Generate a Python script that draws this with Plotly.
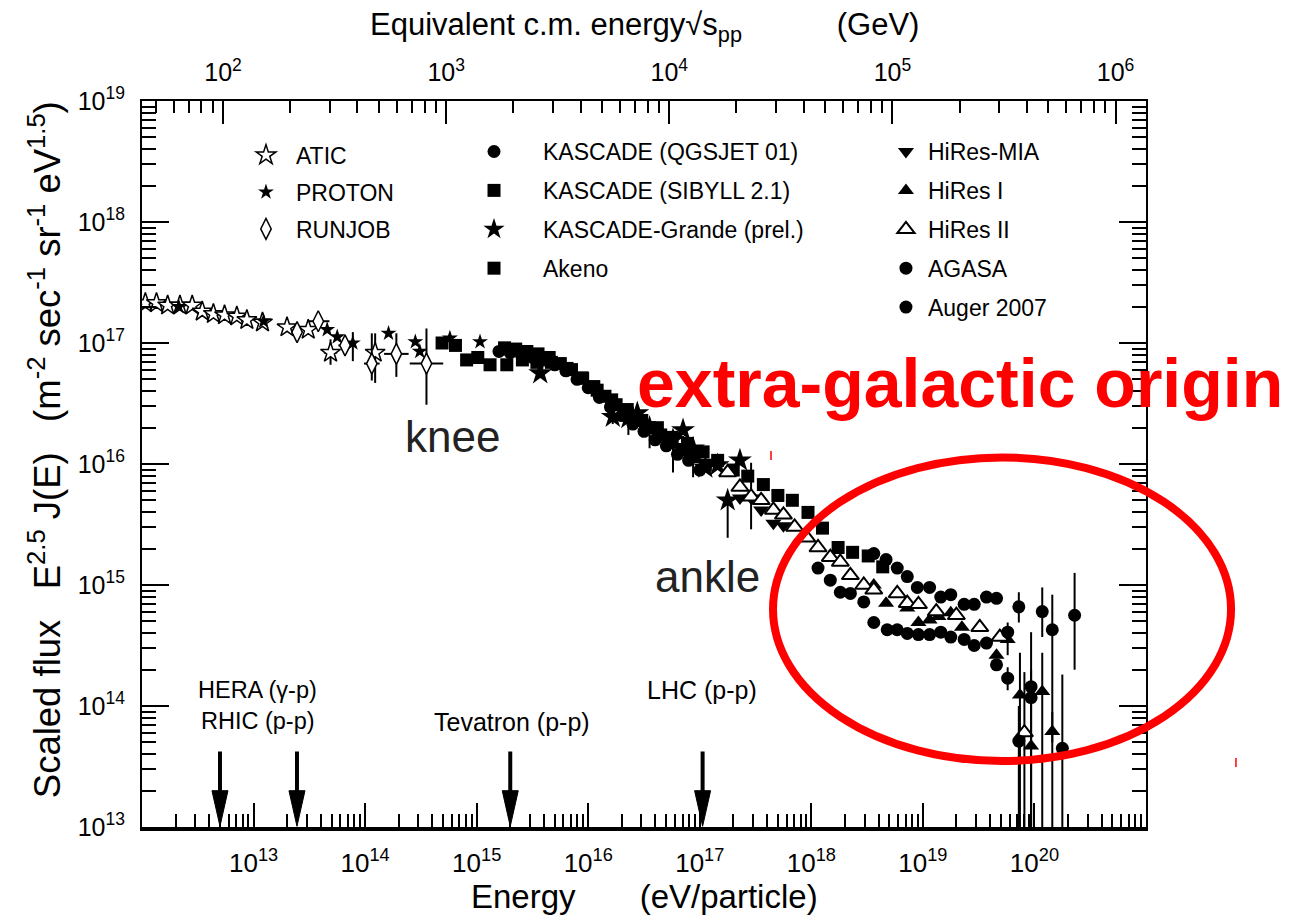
import numpy as np
import plotly.graph_objects as go

# ---------------- data (log10 of energy [eV] and of scaled flux) ----------------
atic_logE = [12.03, 12.13, 12.23, 12.34, 12.45, 12.54, 12.64, 12.74, 12.85, 12.94, 13.08, 13.30, 13.49, 13.69, 14.09]
atic_logF = [17.33, 17.33, 17.31, 17.31, 17.31, 17.26, 17.24, 17.23, 17.22, 17.19, 17.17, 17.13, 17.11, 16.92, 16.92]
atic_lo   = [17.33, 17.33, 17.31, 17.31, 17.31, 17.26, 17.24, 17.23, 17.22, 17.19, 17.17, 17.13, 17.11, 16.82, 16.67]
atic_hi   = [17.33, 17.33, 17.31, 17.31, 17.31, 17.26, 17.24, 17.23, 17.22, 17.19, 17.17, 17.13, 17.11, 17.03, 17.08]
atic_dx   = [0, 0, 0, 0, 0, 0, 0, 0, 0, 0, 0, 0, 0, 0.06, 0]

proton_logE = [12.33, 13.09, 13.66, 13.75, 13.89, 14.21, 14.45, 14.49, 14.76, 15.03]
proton_logF = [17.30, 17.18, 17.11, 17.05, 17.00, 17.08, 17.01, 16.93, 17.04, 17.01]
proton_lo   = [17.30, 17.18, 17.11, 17.05, 16.85, 17.08, 17.01, 16.93, 17.04, 17.01]
proton_hi   = [17.30, 17.18, 17.11, 17.05, 17.09, 17.08, 17.01, 16.93, 17.04, 17.01]

runjob_logE = [13.39, 13.58, 13.82, 14.06, 14.28, 14.55]
runjob_logF = [17.09, 17.18, 16.98, 16.83, 16.91, 16.83]
runjob_lo   = [17.09, 17.18, 16.95, 16.69, 16.72, 16.49]
runjob_hi   = [17.09, 17.18, 17.01, 17.08, 17.08, 17.12]
runjob_dx   = [0.0, 0.10, 0.06, 0.07, 0.11, 0.15]

kq_logE = [15.2, 15.3, 15.4, 15.5, 15.6, 15.7, 15.8, 15.9, 16.0, 16.1, 16.2, 16.3, 16.4, 16.5, 16.6, 16.7, 16.8, 16.9, 17.0]
kq_logF = [16.93, 16.92, 16.90, 16.88, 16.86, 16.82, 16.77, 16.70, 16.63, 16.55, 16.47, 16.40, 16.33, 16.27, 16.20, 16.15, 16.08, 16.03, 15.95]

ks_logE = [15.25, 15.35, 15.45, 15.55, 15.65, 15.75, 15.85, 15.95, 16.05, 16.15, 16.25, 16.35, 16.45, 16.55, 16.65, 16.75, 16.85, 16.95, 17.05]
ks_logF = [16.96, 16.95, 16.93, 16.91, 16.88, 16.83, 16.78, 16.71, 16.64, 16.56, 16.49, 16.42, 16.36, 16.30, 16.24, 16.18, 16.12, 16.06, 15.99]

gr_logE = [15.57, 16.22, 16.36, 16.44, 16.55, 16.64, 16.76, 16.85, 16.94, 17.05, 17.16, 17.25, 17.36]
gr_logF = [16.75, 16.39, 16.38, 16.42, 16.30, 16.24, 16.20, 16.28, 16.13, 15.97, 15.99, 15.70, 16.03]
gr_lo   = [16.75, 16.33, 16.24, 16.42, 16.13, 16.24, 15.93, 16.25, 15.89, 15.97, 15.99, 15.39, 16.03]
gr_hi   = [16.75, 16.39, 16.38, 16.42, 16.30, 16.24, 16.20, 16.28, 16.13, 15.97, 15.99, 15.76, 16.03]

ak_logE = [14.69, 14.81, 14.91, 15.01, 15.12, 15.27, 15.41, 15.54, 15.67, 15.81, 15.94, 16.08, 16.21, 16.35, 16.48, 16.62,
           16.75, 16.89, 17.03, 17.16, 17.30, 17.43, 17.57, 17.70, 17.83, 17.97, 18.10, 18.24, 18.37, 18.51, 18.64]
ak_logF = [17.00, 16.98, 16.86, 16.88, 16.82, 16.82, 16.86, 16.84, 16.84, 16.79, 16.71, 16.61, 16.53, 16.45, 16.36, 16.30,
           16.22, 16.17, 16.10, 16.03, 15.95, 15.90, 15.83, 15.74, 15.70, 15.60, 15.47, 15.31, 15.27, 15.24, 15.15]

hm_logE = [17.36, 17.46, 17.55, 17.66, 17.75]
hm_logF = [15.72, 15.72, 15.62, 15.51, 15.49]
hm_lo   = [15.72, 15.46, 15.62, 15.51, 15.49]
hm_hi   = [15.72, 16.01, 15.62, 15.51, 15.49]

h1_logE = [18.56, 18.67, 18.86, 18.96, 19.06, 19.14, 19.25, 19.35, 19.66, 19.76, 19.87, 19.97, 20.07, 20.16]
h1_logF = [15.00, 14.85, 14.81, 14.69, 14.71, 14.74, 14.77, 14.65, 14.42, 14.55, 14.09, 13.67, 14.12, 13.79]
h1_lo   = [15.00, 14.85, 14.81, 14.69, 14.71, 14.74, 14.77, 14.65, 14.42, 14.55, 13.00, 13.00, 13.00, 13.00]
h1_hi   = [15.00, 14.85, 14.81, 14.69, 14.71, 14.74, 14.77, 14.65, 14.42, 14.55, 14.44, 13.90, 14.44, 13.95]

h2_logE = [17.25, 17.36, 17.46, 17.55, 17.66, 17.75, 17.85, 17.96, 18.06, 18.17, 18.26, 18.35, 18.47, 18.56, 18.77,
           18.86, 18.96, 19.12, 19.30, 19.51, 19.69, 19.91]
h2_logF = [15.93, 15.81, 15.73, 15.70, 15.62, 15.58, 15.48, 15.39, 15.31, 15.23, 15.19, 15.08, 15.00, 14.96, 14.93,
           14.85, 14.84, 14.78, 14.75, 14.65, 14.57, 13.78]
h2_lo   = h2_logF[:-1] + [13.00]
h2_hi   = h2_logF[:-1] + [14.28]

ag_logE = [18.56, 18.67, 18.77, 18.86, 18.95, 19.06, 19.16, 19.25, 19.37, 19.46, 19.57, 19.66, 19.76, 19.86, 19.97, 20.07, 20.16, 20.36]
ag_logF = [15.26, 15.21, 15.14, 15.07, 14.98, 14.98, 14.90, 14.92, 14.84, 14.84, 14.90, 14.89, 14.61, 14.82, 14.16, 14.78, 14.63, 14.75]
ag_lo   = [15.26, 15.21, 15.14, 15.07, 14.98, 14.98, 14.90, 14.92, 14.84, 14.84, 14.90, 14.89, 14.42, 14.69, 13.00, 14.57, 13.70, 14.30]
ag_hi   = [15.26, 15.21, 15.14, 15.07, 14.98, 14.98, 14.90, 14.92, 14.84, 14.84, 14.90, 14.89, 14.69, 14.94, 14.61, 14.98, 14.92, 15.10]

au_logE = [18.06, 18.17, 18.26, 18.35, 18.47, 18.56, 18.68, 18.77, 18.86, 18.96, 19.06, 19.16, 19.25, 19.37, 19.46, 19.57,
           19.66, 19.76, 19.86, 19.97, 20.25]
au_logF = [15.14, 15.04, 14.94, 14.93, 14.86, 14.69, 14.63, 14.63, 14.60, 14.59, 14.59, 14.61, 14.57, 14.55, 14.50, 14.52,
           14.34, 14.23, 13.71, 14.07, 13.65]
au_lo   = [15.14, 15.04, 14.94, 14.93, 14.86, 14.69, 14.63, 14.63, 14.60, 14.59, 14.59, 14.61, 14.57, 14.55, 14.50, 14.52,
           14.34, 14.13, 13.00, 13.90, 13.00]
au_hi   = [15.14, 15.04, 14.94, 14.93, 14.86, 14.69, 14.63, 14.63, 14.60, 14.59, 14.59, 14.61, 14.57, 14.55, 14.50, 14.52,
           14.34, 14.32, 14.00, 14.30, 14.26]

# accelerator equivalent energies (eV)
acc_E = [5.0e12, 2.45e13, 2.0e15, 1.06e17]

x_ticks = [1e13, 1e14, 1e15, 1e16, 1e17, 1e18, 1e19, 1e20]
x_ticktext = ["10<sup>%d</sup>" % k for k in range(13, 21)]
y_ticks = [1e13, 1e14, 1e15, 1e16, 1e17, 1e18, 1e19]
y_ticktext = ["10<sup>%d</sup>" % k for k in range(13, 20)]
top_ticks = [1e2, 1e3, 1e4, 1e5, 1e6]
top_ticktext = ["10<sup>%d</sup>" % k for k in range(2, 7)]

M_P = 0.938  # GeV, proton mass (fixed target: sqrt(s) = sqrt(2 m E))

# ---------------- helpers ----------------
FONT = "Liberation Sans, Arial, Helvetica, sans-serif"


def P(v):
    return 10 ** np.asarray(v, dtype=float)


def yerr(logF, lo, hi):
    v = P(logF)
    return dict(type="data", symmetric=False, array=P(hi) - v, arrayminus=v - P(lo),
                color="black", thickness=2, width=0)


def xerr(logE, dx):
    v = P(logE)
    d = np.asarray(dx, dtype=float)
    return dict(type="data", symmetric=False, array=P(np.asarray(logE) + d) - v,
                arrayminus=v - P(np.asarray(logE) - d), color="black", thickness=2, width=0)


fig = go.Figure()


def add(name, logE, logF, symbol, size, legend, filled=True, ey=None, ex=None, lw=1.5):
    marker = dict(symbol=symbol, size=size,
                  color="black" if filled else "white",
                  line=dict(color="black", width=lw if not filled else 0))
    fig.add_trace(go.Scatter(
        x=P(logE), y=P(logF), mode="markers", name=name, marker=marker,
        error_y=ey, error_x=ex, legend=legend, legendgroup=name, cliponaxis=True,
        hoverinfo="x+y+name"))


add("ATIC", atic_logE, atic_logF, "star", 15, "legend", filled=False,
    ey=yerr(atic_logF, atic_lo, atic_hi), ex=xerr(atic_logE, atic_dx))
add("PROTON", proton_logE, proton_logF, "star", 12, "legend",
    ey=yerr(proton_logF, proton_lo, proton_hi))
add("RUNJOB", runjob_logE, runjob_logF, "diamond-tall", 15, "legend", filled=False,
    ey=yerr(runjob_logF, runjob_lo, runjob_hi), ex=xerr(runjob_logE, runjob_dx))

add("KASCADE (QGSJET 01)", kq_logE, kq_logF, "circle", 13, "legend2")
add("KASCADE (SIBYLL 2.1)", ks_logE, ks_logF, "square", 13, "legend2")
add("KASCADE-Grande (prel.)", gr_logE, gr_logF, "star", 18, "legend2",
    ey=yerr(gr_logF, gr_lo, gr_hi))
add("Akeno", ak_logE, ak_logF, "square", 13, "legend2")

add("HiRes-MIA", hm_logE, hm_logF, "triangle-down", 14, "legend3",
    ey=yerr(hm_logF, hm_lo, hm_hi))
add("HiRes I", h1_logE, h1_logF, "triangle-up", 14, "legend3",
    ey=yerr(h1_logF, h1_lo, h1_hi))
add("HiRes II", h2_logE, h2_logF, "triangle-up", 15, "legend3", filled=False,
    ey=yerr(h2_logF, h2_lo, h2_hi), lw=2)
add("AGASA", ag_logE, ag_logF, "circle", 13, "legend3",
    ey=yerr(ag_logF, ag_lo, ag_hi))
add("Auger 2007", au_logE, au_logF, "circle", 13, "legend3",
    ey=yerr(au_logF, au_lo, au_hi))

# empty trace so that the top (sqrt(s)) axis is instantiated
fig.add_trace(go.Scatter(x=[], y=[], xaxis="x2", yaxis="y", showlegend=False, hoverinfo="skip"))

# ---------------- axes ----------------
minor_x = [m * 10.0 ** k for k in range(12, 21) for m in range(2, 10)]
minor_y = [m * 10.0 ** k for k in range(13, 19) for m in range(2, 10)]
minor_top = [m * 10.0 ** k for k in range(1, 7) for m in range(2, 10)]

E_lo_GeV, E_hi_GeV = 1e12 / 1e9, 1e21 / 1e9
top_range = [np.log10(np.sqrt(2 * M_P * E_lo_GeV)), np.log10(np.sqrt(2 * M_P * E_hi_GeV))]

axis_common = dict(showgrid=False, zeroline=False, linecolor="black", tickcolor="black",
                   ticks="inside", tickwidth=2, showline=True)

fig.update_layout(
    width=1295, height=918,
    margin=dict(l=142, r=149, t=101, b=91),
    paper_bgcolor="white", plot_bgcolor="white",
    font=dict(family=FONT, color="black", size=23),
    xaxis=dict(type="log", range=[12, 21], linewidth=4, ticklen=24,
               tickvals=x_ticks, ticktext=x_ticktext, tickfont=dict(size=26, family=FONT),
               ticklabelstandoff=10,
               minor=dict(ticks="inside", ticklen=13, tickwidth=1.5, tickcolor="black",
                          tickvals=minor_x, showgrid=False),
               **axis_common),
    xaxis2=dict(type="log", range=top_range, overlaying="x", side="top", anchor="y",
                linewidth=2, ticklen=23, tickvals=top_ticks, ticktext=top_ticktext,
                tickfont=dict(size=25, family=FONT), ticklabelstandoff=8,
                minor=dict(ticks="inside", ticklen=12, tickwidth=1.5, tickcolor="black",
                           tickvals=minor_top, showgrid=False),
                **axis_common),
    yaxis=dict(type="log", range=[13, 19], linewidth=2, mirror="ticks", ticklen=27,
               tickvals=y_ticks, ticktext=y_ticktext, tickfont=dict(size=25, family=FONT),
               ticklabelstandoff=10,
               minor=dict(ticks="inside", ticklen=14, tickwidth=1.5, tickcolor="black",
                          tickvals=minor_y, showgrid=False),
               **axis_common),
    legend=dict(x=0.0936, y=0.955, xanchor="left", yanchor="top", bgcolor="rgba(0,0,0,0)",
                font=dict(size=23, family=FONT), itemwidth=50, tracegroupgap=4,
                traceorder="grouped"),
    legend2=dict(x=0.3018, y=0.960, xanchor="left", yanchor="top", bgcolor="rgba(0,0,0,0)",
                 font=dict(size=23, family=FONT), itemwidth=88, tracegroupgap=6,
                 traceorder="grouped"),
    legend3=dict(x=0.739, y=0.960, xanchor="left", yanchor="top", bgcolor="rgba(0,0,0,0)",
                 font=dict(size=23, family=FONT), itemwidth=34, tracegroupgap=6,
                 traceorder="grouped"),
    showlegend=True,
)

# ---------------- accelerator arrows ----------------
shapes = []
for e in acc_E:
    shapes.append(dict(type="line", xref="x", yref="paper", x0=e, x1=e, y0=0.045, y1=0.104,
                       line=dict(color="black", width=4)))
    shapes.append(dict(type="path", xref="x", yref="paper", xsizemode="pixel", xanchor=e,
                       path="M-8,0.050 L8,0.050 L0,0.001 Z", fillcolor="black",
                       line=dict(color="black", width=1)))

# red ellipse + small red marks
shapes.append(dict(type="circle", xref="paper", yref="paper", x0=0.6285, x1=1.0847, y0=0.0909, y1=0.5090,
                   line=dict(color="#ff0000", width=8), layer="above"))
shapes.append(dict(type="line", xref="paper", yref="paper", x0=0.6265, x1=0.6265, y0=0.5055, y1=0.5179,
                   line=dict(color="#ff0000", width=1.5)))
shapes.append(dict(type="line", xref="paper", yref="paper", x0=1.0896, x1=1.0896, y0=0.0826, y1=0.0950,
                   line=dict(color="#ff0000", width=1.5)))
fig.update_layout(shapes=shapes)

# ---------------- text ----------------
NB = "\u00a0"
ann = []


def txt(text, x, y, size, color="black", angle=0, family=FONT):
    ann.append(dict(text=text, x=x, y=y, xref="paper", yref="paper", showarrow=False,
                    xanchor="center", yanchor="middle", textangle=angle,
                    font=dict(size=size, color=color, family=family)))


txt("Equivalent c.m. energy\u221As<sub>pp</sub>" + NB * 11 + "(GeV)", 0.5, 1.102, 31)
txt("Energy" + NB * 7 + "(eV/particle)", 0.5, -0.0964, 33)
txt("Scaled flux" + NB * 3 + "E<sup>2.5</sup> J(E)" + NB * 3 +
    "(m<sup>-2</sup> sec<sup>-1</sup> sr<sup>-1</sup> eV<sup>1.5</sup>)",
    -0.0966, 0.519, 36.5, angle=-90)
txt("knee", 0.3088, 0.5372, 44, color="#222222")
txt("ankle", 0.5637, 0.3444, 44, color="#222222")
txt("<b>extra-galactic origin</b>", 0.8147, 0.6116, 68, color="#ff0000")
txt("HERA (\u03b3-p)", 0.1155, 0.1887, 23.5)
txt("RHIC (p-p)", 0.1155, 0.146, 23.5)
txt("Tevatron (p-p)", 0.3685, 0.1446, 25)
txt("LHC (p-p)", 0.5578, 0.1887, 25)
fig.update_layout(annotations=ann)

fig.write_html("out.html")
